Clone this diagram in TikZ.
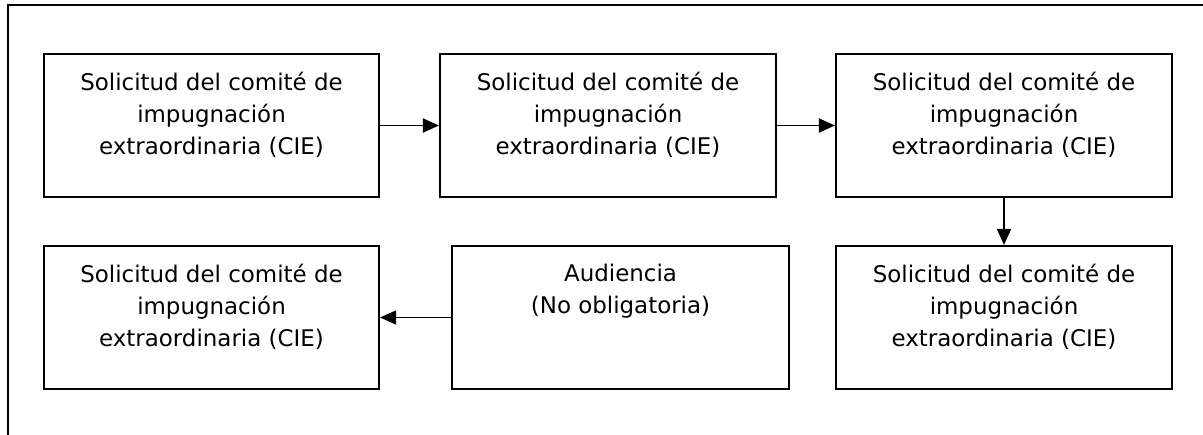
\documentclass[tikz,border=0pt]{standalone}
\usepackage{fontspec}
\setmainfont{DejaVu Sans}
\usetikzlibrary{arrows.meta}
\begin{document}
\begin{tikzpicture}[x=0.75pt,y=-0.75pt,
  frame/.style={line width=1.5pt},
  box/.style={draw,line width=1.6pt,rectangle,inner sep=0pt},
  txt/.style={inner sep=0pt,align=center,anchor=north,font=\fontsize{17.2}{24}\selectfont},
  conn/.style={line width=1.4pt,-{Triangle[length=12pt,width=10.5pt]}}]
\useasboundingbox (0,0) rectangle (1203,435);
\coordinate (ftop) at (1203,5);
\coordinate (fcorner) at (8,5);
\coordinate (fbot) at (8,435);
\draw[frame] (ftop) -- (fcorner) -- (fbot);
% boxes
\node[box,minimum width=335pt*0.75,minimum height=143pt*0.75] (b1) at (211.5,125.5) {};
\node[box,minimum width=336pt*0.75,minimum height=143pt*0.75] (b2) at (608,125.5) {};
\node[box,minimum width=336pt*0.75,minimum height=143pt*0.75] (b3) at (1004,125.5) {};
\node[box,minimum width=336pt*0.75,minimum height=143pt*0.75] (b4) at (1004,317.5) {};
\node[box,minimum width=337pt*0.75,minimum height=143pt*0.75] (b5) at (620.5,317.5) {};
\node[box,minimum width=335pt*0.75,minimum height=143pt*0.75] (b6) at (211.5,317.5) {};
% texts
\node[txt] (t1) at ([yshift=-14.5pt]b1.north) {Solicitud del comité de\\impugnación\\extraordinaria (CIE)};
\node[txt] (t2) at ([yshift=-14.5pt]b2.north) {Solicitud del comité de\\impugnación\\extraordinaria (CIE)};
\node[txt] (t3) at ([yshift=-14.5pt]b3.north) {Solicitud del comité de\\impugnación\\extraordinaria (CIE)};
\node[txt] (t4) at ([yshift=-14.5pt]b4.north) {Solicitud del comité de\\impugnación\\extraordinaria (CIE)};
\node[txt] (t5) at ([yshift=-14.5pt]b5.north) {Audiencia\\(No obligatoria)};
\node[txt] (t6) at ([yshift=-14.5pt]b6.north) {Solicitud del comité de\\impugnación\\extraordinaria (CIE)};
% connectors
\draw[conn] (b1.east) -- (b2.west);
\draw[conn] (b2.east) -- (b3.west);
\draw[conn] (b3.south) -- (b4.north);
\draw[conn] (b5.west) -- (b6.east);
\end{tikzpicture}
\end{document}
